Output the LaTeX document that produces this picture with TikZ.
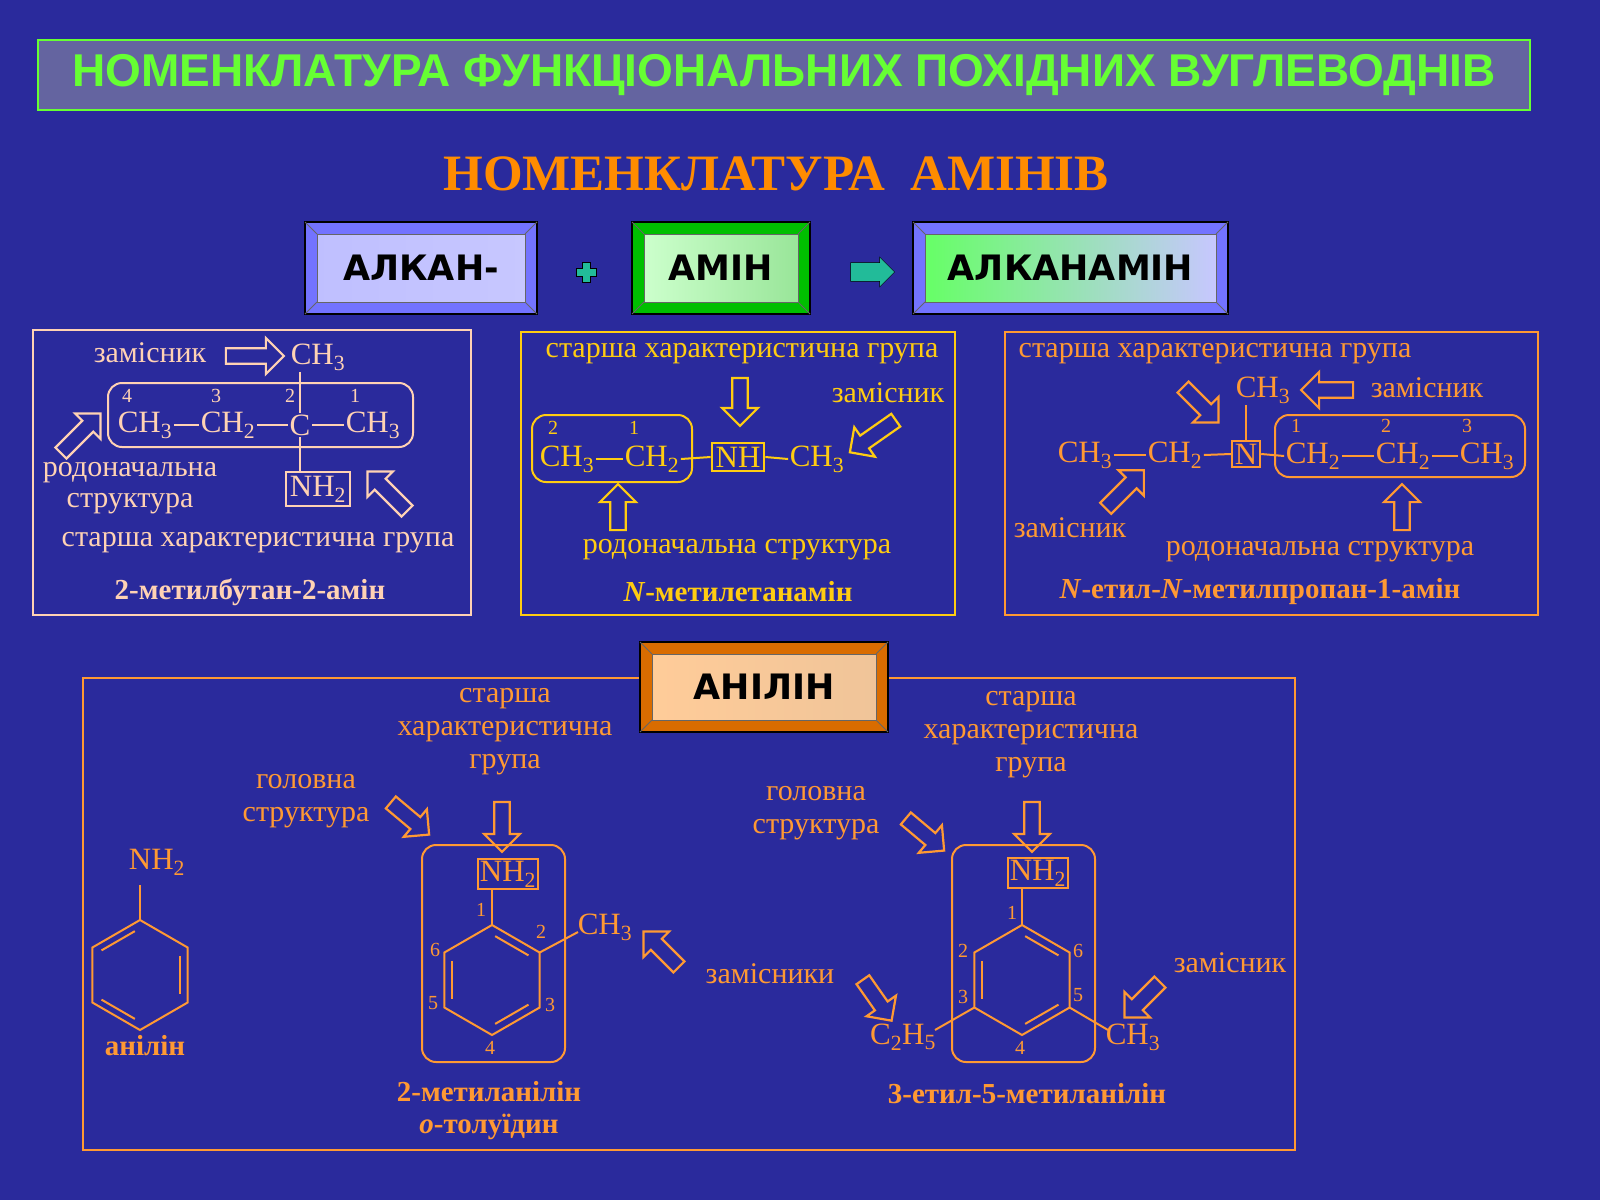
\documentclass[tikz,border=0pt]{standalone}
\usepackage{fontspec}
\setmainfont{Liberation Serif}
\newfontfamily\titlefont{Liberation Sans}
\newfontfamily\boxfont{DejaVu Sans}
\usetikzlibrary{shapes.arrows,calc}
\definecolor{bg}{HTML}{2A2A9C}
\definecolor{peach}{HTML}{FFD2B4}
\definecolor{yel}{HTML}{FFCC11}
\definecolor{org}{HTML}{FF9933}
\definecolor{tgreen}{HTML}{66FF33}
\definecolor{teal}{HTML}{22BB99}
\tikzset{
 lbl/.style={font=\fontsize{30}{33}\selectfont,inner sep=0pt},
 chem/.style={font=\fontsize{31}{33}\selectfont,inner sep=1.5pt},
 num/.style={font=\fontsize{20}{22}\selectfont,inner sep=0pt},
 nm/.style={font=\fontsize{29}{32}\selectfont\bfseries,inner sep=0pt},
 harrow/.style={single arrow,draw,line width=2.2pt,minimum height=56pt,minimum width=36pt,single arrow head extend=8pt,inner xsep=0pt,inner ysep=5pt},
 bond/.style={line width=2pt},
 grp/.style={draw,line width=2pt,rounded corners=14pt},
 sq/.style={draw,line width=2pt,inner sep=3pt},
}
\newcommand{\bevel}[8]{%
 \fill[#6,draw=black,line width=1.5pt] (#2,#3) rectangle (#4,#5);
 \shade[left color=#7,right color=#6!40!white,draw=black!60,line width=1pt] (#2+12,#3+12) rectangle (#4-12,#5-12);
 \draw[black!60,line width=1pt] (#2,#3)--(#2+12,#3+12) (#4,#3)--(#4-12,#3+12) (#2,#5)--(#2+12,#5-12) (#4,#5)--(#4-12,#5-12);
 \node[font=\boxfont\bfseries\fontsize{35}{37}\selectfont] (#1) at ({(#2+#4)/2},{(#3+#5)/2}) {#8};}
\newcommand{\hexa}[3]{%
 \foreach \i/\a in {1/90,2/30,3/-30,4/-90,5/-150,6/150}{\coordinate (#1\i) at ($(#2,#3)+(\a:55 and -55)$);}}
\begin{document}
\begin{tikzpicture}[x=1pt,y=-1pt]
\fill[bg] (0,0) rectangle (1600,1200);
\useasboundingbox (0,0) rectangle (1600,1200);
\node[draw=tgreen,fill={rgb,255:red,100;green,100;blue,160},line width=1.5pt,minimum width=1492pt,minimum height=70pt,
 text=tgreen,font=\titlefont\bfseries\fontsize{46}{48}\selectfont] (title) at (784,75) {НОМЕНКЛАТУРА ФУНКЦІОНАЛЬНИХ ПОХІДНИХ ВУГЛЕВОДНІВ};
\node[text=orange!90!yellow,font=\bfseries\fontsize{51}{54}\selectfont] (sub) at (776,174) {НОМЕНКЛАТУРА\ \ АМІНІВ};
\bevel{alk}{305}{222}{537}{314}{blue!55!white}{blue!25!white}{АЛКАН-}
\bevel{amin}{632}{222}{810}{314}{green!75!black}{green!20!white}{АМІН}
\bevel{alkam}{913}{222}{1228}{314}{blue!55!white}{green!60!white}{АЛКАНАМІН}
\node[inner sep=0pt,minimum size=1pt] (plus) at (586,272) {};
\filldraw[teal,draw=black,line width=0.8pt] (582,262)--(590,262)--(590,268)--(596,268)--(596,276)--(590,276)--(590,282)--(582,282)--(582,276)--(576,276)--(576,268)--(582,268)--cycle;
\node[single arrow,fill=teal,draw=black,minimum height=44pt,minimum width=30pt,single arrow head extend=5pt,inner xsep=0pt,inner ysep=8pt] (sarr) at (868,272) {};
% LEFT
\begin{scope}[peach,text=peach]
\draw[line width=2pt] (33,330) rectangle (471,615);
\node[lbl] (zl) at (150,353) {замісник};
\node[harrow,minimum height=58pt] (a1) at (251,356) {};
\node[chem] (lm) at (318,357) {CH\textsubscript{3}};
\draw[grp] (108,383) rectangle (413,447);
\node[chem] (l4) at (145,425) {CH\textsubscript{3}};
\node[chem] (l3) at (228,425) {CH\textsubscript{2}};
\node[chem] (l2) at (300,425) {C};
\node[chem] (l1) at (373,425) {CH\textsubscript{3}};
\foreach \n/\x in {4/127,3/216,2/290,1/355}{\node[num] (ln\n) at (\x,396) {\n};}
\draw[bond] (l4)--(l3); \draw[bond] (l3)--(l2); \draw[bond] (l2)--(l1);
\node[sq,chem,inner sep=4pt] (lnh) at (318,489) {NH\textsubscript{2}};
\draw[bond] (lm.south west-|l2)--(l2.north); \draw[bond] (l2.south)--(lnh.north-|l2);
\node[harrow,rotate=45] (a2) at (78,436) {};
\node[lbl] (r1) at (130,473) {родоначальна};
\node[lbl] (r2) at (130,504) {структура};
\node[harrow,rotate=135] (a3) at (390,494) {};
\node[lbl] (sl) at (258,543) {старша характеристична група};
\node[nm] (nl) at (250,592) {2-метилбутан-2-амін};
\end{scope}
% MIDDLE
\begin{scope}[yel,text=yel]
\draw[line width=2pt] (521,332) rectangle (955,615);
\node[lbl] (sm) at (742,354) {старша характеристична група};
\node[harrow,rotate=-90,minimum height=48pt] (a4) at (740,398) {};
\node[lbl] (zm) at (888,393) {замісник};
\node[harrow,rotate=-145] (a5) at (876,434) {};
\draw[grp] (532,415) rectangle (692,482);
\node[num] at (553,428) {2}; \node[num] at (634,428) {1};
\node[chem] (m1) at (567,459) {CH\textsubscript{3}};
\node[chem] (m2) at (652,459) {CH\textsubscript{2}};
\node[sq,chem,inner sep=4pt] (mnh) at (738,457) {NH};
\node[chem] (m3) at (817,459) {CH\textsubscript{3}};
\draw[bond] (m1)--(m2); \draw[bond] (m2.east)--(mnh.west); \draw[bond] (mnh.east)--(m3.west);
\node[harrow,rotate=90,minimum height=46pt] (a6) at (618,511) {};
\node[lbl] (rm) at (737,550) {родоначальна структура};
\node[nm] (nmid) at (738,592) {\textit{N}-метилетанамін};
\end{scope}
% RIGHT
\begin{scope}[org,text=org]
\draw[line width=2pt] (1005,332) rectangle (1538,615);
\node[lbl] (sr) at (1215,354) {старша характеристична група};
\node[chem] (rm0) at (1263,390) {CH\textsubscript{3}};
\node[harrow,rotate=180,minimum height=52pt] (a7) at (1331,390) {};
\node[lbl] (zr) at (1427,388) {замісник};
\node[harrow,rotate=-45,minimum height=50pt] (a8) at (1198,402) {};
\node[chem] (r1) at (1085,455) {CH\textsubscript{3}};
\node[chem] (r2) at (1175,455) {CH\textsubscript{2}};
\node[sq,chem,inner sep=3pt] (rn) at (1246,454) {N};
\draw[grp] (1275,415) rectangle (1525,477);
\node[num] at (1296,426) {1}; \node[num] at (1386,426) {2}; \node[num] at (1467,426) {3};
\node[chem] (r3) at (1313,456) {CH\textsubscript{2}};
\node[chem] (r4) at (1403,456) {CH\textsubscript{2}};
\node[chem] (r5) at (1487,456) {CH\textsubscript{3}};
\draw[bond] (r1)--(r2); \draw[bond] (r2.east)--(rn.west); \draw[bond] (rn.east)--(r3.west); \draw[bond] (r3)--(r4); \draw[bond] (r4)--(r5);
\draw[bond] (rm0.south west-|rn)--(rn.north);
\node[harrow,rotate=45,minimum height=54pt] (a9) at (1122,492) {};
\node[lbl] (zr2) at (1070,528) {замісник};
\node[harrow,rotate=90,minimum height=46pt] (a10) at (1402,511) {};
\node[lbl] (rr) at (1320,552) {родоначальна структура};
\node[nm] (nr) at (1260,592) {\textit{N}-етил-\textit{N}-метилпропан-1-амін};
\end{scope}
% BOTTOM
\draw[org,line width=2pt] (83,678) rectangle (1295,1150);
\bevel{anil}{640}{642}{888}{732}{orange!85!black}{orange!40!white}{АНІЛІН}
\begin{scope}[org,text=org]
\hexa{A}{140}{975}
\draw[bond] (A1)--(A2)--(A3)--(A4)--(A5)--(A6)--cycle;
\draw[bond] ($(A2)!0.15!(A3)+(-8,0)$)--($(A3)!0.15!(A2)+(-8,0)$);
\draw[bond] ($(A1)!0.15!(A6)+(2,7)$)--($(A6)!0.15!(A1)+(2,7)$);
\draw[bond] ($(A4)!0.15!(A5)+(2,-7)$)--($(A5)!0.15!(A4)+(2,-7)$);
\node[chem] (anh) at (157,862) {NH\textsubscript{2}};
\draw[bond] (A1)--(140,885);
\node[nm] (an) at (145,1046) {анілін};
\node[lbl,align=center] (s1) at (505,732) {старша\\характеристична\\група};
\node[harrow,rotate=-90,minimum height=50pt] (b1) at (502,823) {};
\node[lbl,align=center] (g1) at (306,801) {головна\\структура};
\node[harrow,rotate=-40,minimum height=50pt] (b2) at (407,816) {};
\draw[grp] (422,845) rectangle (565,1062);
\node[sq,chem] (tnh) at (508,874) {NH\textsubscript{2}};
\hexa{T}{492}{980}
\draw[bond] (T1)--(T2)--(T3)--(T4)--(T5)--(T6)--cycle;
\draw[bond] ($(T1)!0.15!(T2)+(-4,7)$)--($(T2)!0.15!(T1)+(-4,7)$);
\draw[bond] ($(T6)!0.15!(T5)+(8,0)$)--($(T5)!0.15!(T6)+(8,0)$);
\draw[bond] ($(T3)!0.15!(T4)+(-4,-7)$)--($(T4)!0.15!(T3)+(-4,-7)$);
\draw[bond] (T1)--(tnh.south-|T1);
\foreach \n/\x/\y in {1/481/910,2/541/932,6/435/950,5/433/1003,3/550/1005,4/490/1048}{\node[num] at (\x,\y) {\n};}
\node[chem] (tch) at (605,927) {CH\textsubscript{3}};
\draw[bond] (T2)--(578,932);
\node[harrow,rotate=135,minimum height=50pt] (b3) at (664,952) {};
\node[lbl] (zz) at (770,974) {замісники};
\node[harrow,rotate=-55,minimum height=50pt] (b4) at (875,997) {};
\node[nm,align=center] (tn) at (489,1111) {2-метиланілін\\\textit{o}-толуїдин};
\node[lbl,align=center] (s2) at (1031,735) {старша\\характеристична\\група};
\node[harrow,rotate=-90,minimum height=50pt] (c1) at (1032,823) {};
\node[lbl,align=center] (g2) at (816,813) {головна\\структура};
\node[harrow,rotate=-40,minimum height=50pt] (c2) at (922,832) {};
\draw[grp] (952,845) rectangle (1095,1062);
\node[sq,chem] (enh) at (1038,873) {NH\textsubscript{2}};
\hexa{E}{1022}{980}
\draw[bond] (E1)--(E2)--(E3)--(E4)--(E5)--(E6)--cycle;
\draw[bond] ($(E1)!0.15!(E2)+(-4,7)$)--($(E2)!0.15!(E1)+(-4,7)$);
\draw[bond] ($(E6)!0.15!(E5)+(8,0)$)--($(E5)!0.15!(E6)+(8,0)$);
\draw[bond] ($(E3)!0.15!(E4)+(-4,-7)$)--($(E4)!0.15!(E3)+(-4,-7)$);
\draw[bond] (E1)--(enh.south-|E1);
\foreach \n/\x/\y in {1/1012/913,2/963/951,6/1078/951,3/963/997,5/1078/995,4/1020/1048}{\node[num] at (\x,\y) {\n};}
\node[chem] (ec2) at (903,1037) {C\textsubscript{2}H\textsubscript{5}};
\draw[bond] (E5)--(935,1030);
\node[chem] (ech) at (1133,1037) {CH\textsubscript{3}};
\draw[bond] (E3)--(1108,1030);
\node[lbl] (ze) at (1230,963) {замісник};
\node[harrow,rotate=-135,minimum height=50pt] (c3) at (1145,997) {};
\node[nm] (en) at (1027,1094) {3-етил-5-метиланілін};
\end{scope}
\end{tikzpicture}
\end{document}
